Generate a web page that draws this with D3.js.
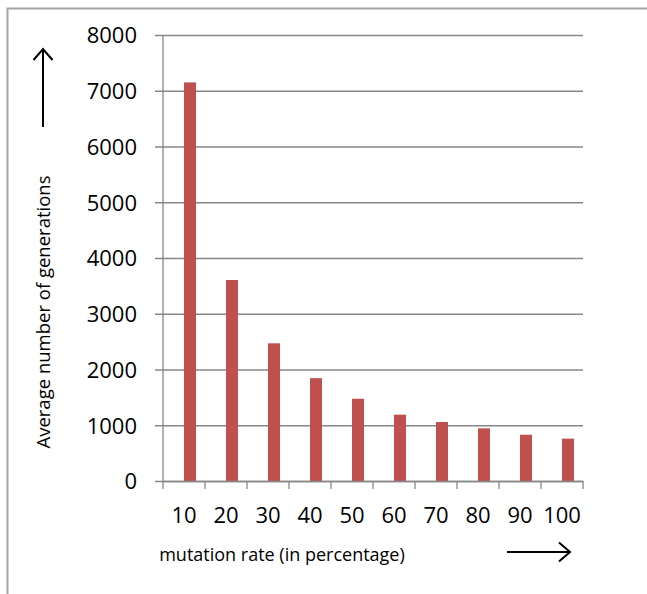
<!DOCTYPE html>
<html>
<head>
<meta charset="utf-8">
<script src="https://cdn.jsdelivr.net/npm/d3@7"></script>
<style>
  html, body { margin: 0; padding: 0; background: #fff; }
  svg { display: block; }
  text { font-family: "Open Sans", "Noto Sans", sans-serif; fill: #000; }
</style>
</head>
<body>
<svg id="chart" width="647" height="594"></svg>
<script>
const categories = ["10", "20", "30", "40", "50", "60", "70", "80", "90", "100"];
const values = [7150, 3605, 2470, 1845, 1475, 1190, 1058, 945, 830, 760];
const yTicks = [0, 1000, 2000, 3000, 4000, 5000, 6000, 7000, 8000];
const yTitle = "Average number of generations";
const xTitle = "mutation rate (in percentage)";

(function () {
const svg = d3.select("#chart");
const W = 647, H = 594;
const mLeft = 163, mRight = 583, mTop = 35, mBottom = 481;
const gridColor = "#878787";

// outer border (top and left visible)
svg.append("path")
  .attr("d", `M7.5,${H} L7.5,8.5 L${W},8.5`)
  .attr("fill", "none").attr("stroke", "#a3a3a3").attr("stroke-width", 2);

const x = d3.scaleBand().domain(categories).range([mLeft, mRight]).padding(0);
const y = d3.scaleLinear().domain([0, 8000]).range([mBottom, mTop]);

// gridlines + y ticks via axis
const yAxis = svg.append("g")
  .attr("transform", `translate(${mLeft},0)`)
  .call(d3.axisLeft(y).tickValues(yTicks).tickFormat(d3.format("d"))
    .tickSize(-(mRight - mLeft)).tickSizeOuter(0).tickPadding(26));
yAxis.select(".domain").remove();
yAxis.selectAll(".tick line")
  .attr("x1", -8).attr("stroke", gridColor).attr("stroke-width", 1.3);
yAxis.selectAll(".tick text")
  .style("font-size", "22px").attr("dy", "0.36em");

// y axis line
svg.append("line")
  .attr("x1", mLeft).attr("x2", mLeft).attr("y1", mTop).attr("y2", mBottom)
  .attr("stroke", gridColor).attr("stroke-width", 1.3);

// bars (visible series sits right of category centre)
const bw = x.bandwidth();
const barW = bw / 3.5;
svg.append("g").selectAll("rect").data(categories).join("rect")
  .attr("x", (d) => x(d) + bw / 2)
  .attr("width", barW)
  .attr("y", (d, i) => y(values[i]))
  .attr("height", (d, i) => y(0) - y(values[i]))
  .attr("fill", "#C0504D");

// x axis
const xAxis = svg.append("g")
  .attr("transform", `translate(0,${mBottom})`)
  .call(d3.axisBottom(x).tickSize(0).tickPadding(26));
xAxis.select(".domain").attr("stroke", gridColor).attr("stroke-width", 1.3);
xAxis.selectAll(".tick text").style("font-size", "22px");
// category boundary tick marks
const bounds = categories.map((c) => x(c)).concat([mRight]);
svg.append("g").selectAll("line").data(bounds).join("line")
  .attr("x1", (d) => d).attr("x2", (d) => d)
  .attr("y1", mBottom).attr("y2", mBottom + 8)
  .attr("stroke", gridColor).attr("stroke-width", 1.3);

// axis titles
svg.append("text")
  .attr("transform", "translate(50,312) rotate(-90)")
  .attr("text-anchor", "middle")
  .style("font-size", "18.5px")
  .text(yTitle);
svg.append("text")
  .attr("x", 282).attr("y", 561)
  .attr("text-anchor", "middle")
  .style("font-size", "18px")
  .text(xTitle);

// arrows
const arrowStyle = (sel) => sel.attr("fill", "none").attr("stroke", "#000").attr("stroke-width", 2);
svg.append("path").attr("d", "M43,127 L43,49 M33.5,60 L43,49 L52.5,60").call(arrowStyle);
svg.append("path").attr("d", "M507,552 L570,552 M559,542.5 L570,552 L559,561.5").call(arrowStyle);
})();
</script>
</body>
</html>
